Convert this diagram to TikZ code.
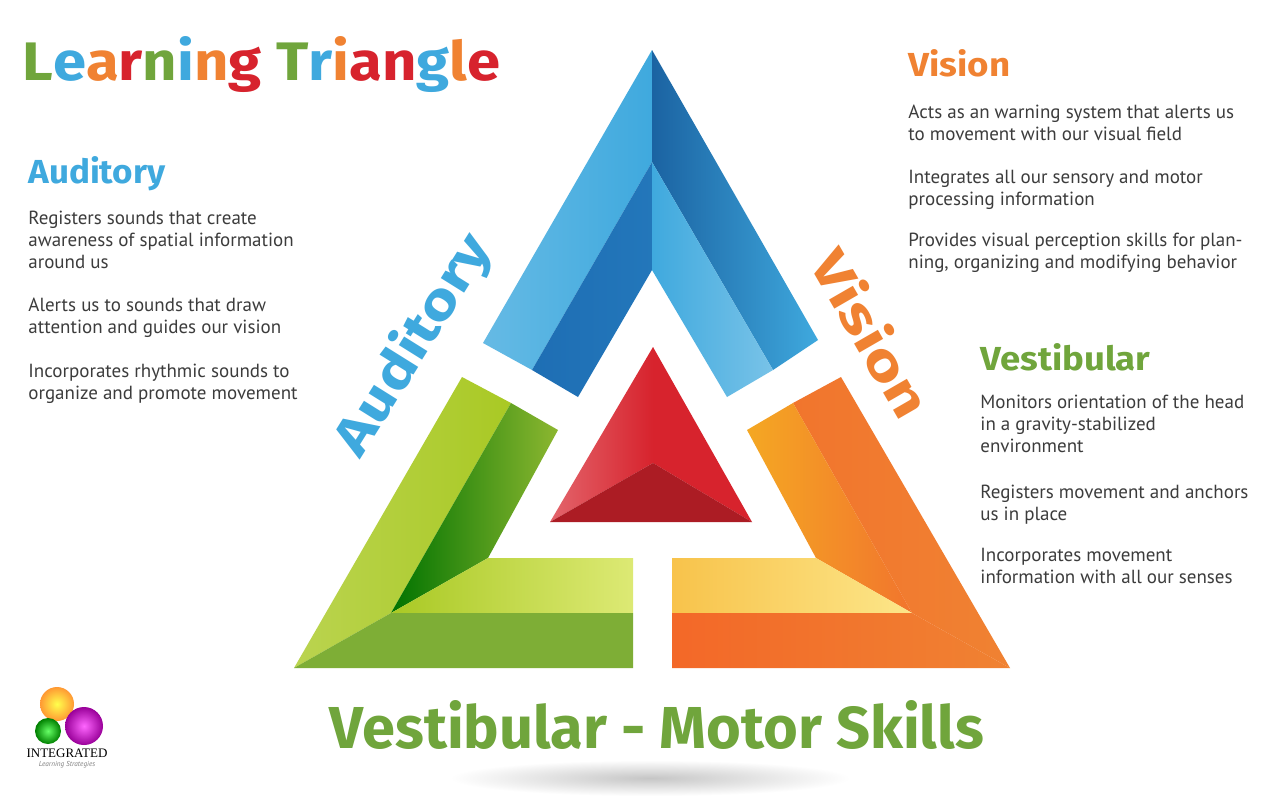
\documentclass[tikz,border=0pt]{standalone}
\usepackage{fontspec}
\setmainfont{PT Sans}
\newfontfamily\hfont{Fira Sans}
\newfontfamily\lfont{Liberation Serif}
\definecolor{cB}{RGB}{63,169,222}
\definecolor{cBd}{RGB}{30,110,180}
\definecolor{cO}{RGB}{240,130,50}
\definecolor{cG}{RGB}{112,165,60}
\definecolor{cR}{RGB}{215,35,45}
\definecolor{txt}{RGB}{60,60,60}
\tikzset{
 body/.style={anchor=north west,align=left,text=txt,font=\fontsize{9.5}{11}\selectfont,inner sep=0pt},
}
\newcommand{\T}[3]{\resizebox{#1}{#2}{\hfont\bfseries #3}}
\begin{document}
\begin{tikzpicture}[x=0.5pt,y=-0.5pt]
\useasboundingbox (0,0) rectangle (1274,800);
\fill[white] (0,0) rectangle (1274,800);
% shadow
\shade[inner color=gray!45,outer color=white] (650,778) ellipse (200 and 18);
% blue
\shade[left color=cB!80!white,right color=cB] (652,50)--(483,343)--(532,370)--(652,162)--cycle;
\shade[left color=cBd,right color=cBd!85!cB] (652,162)--(532,370)--(578,397)--(652,270)--cycle;
\shade[left color=cBd!90!black,right color=cB] (652,50)--(818,340)--(773,370)--(652,162)--cycle;
\shade[left color=cB,right color=cB!70!white] (652,162)--(773,370)--(727,397)--(652,270)--cycle;
% green
\shade[left color=cG!60!yellow!80!white,right color=cG!60!yellow] (294,668)--(462,377)--(511,403)--(391,613)--cycle;
\shade[left color=green!45!black,right color=cG!80!yellow] (511,403)--(558,430)--(488,558)--(391,613)--cycle;
\shade[left color=cG!60!yellow,right color=cG!40!yellow!60!white] (391,613)--(488,558)--(633,558)--(633,613)--cycle;
\fill[cG!90!yellow] (294,668)--(391,613)--(633,613)--(633,668)--cycle;
% orange
\shade[left color=cO!90!red,right color=cO] (1010,668)--(841,377)--(793,403)--(912,613)--cycle;
\shade[left color=cO!70!yellow,right color=cO!90!red] (793,403)--(747,430)--(816,558)--(912,613)--cycle;
\shade[left color=cO!60!yellow!80!white,right color=cO!40!yellow!50!white] (912,613)--(816,558)--(672,558)--(672,613)--cycle;
\shade[left color=cO!80!red,right color=cO] (1010,668)--(912,613)--(672,613)--(672,668)--cycle;
% red
\shade[left color=cR!70!white,right color=cR] (653,347)--(550,522)--(653,463)--cycle;
\fill[cR] (653,347)--(752,522)--(653,463)--cycle;
\fill[cR!80!black] (550,522)--(752,522)--(653,463)--cycle;
% title
\node[anchor=base west,inner sep=0pt] (title) at (22,80) {\T{239pt}{22pt}{\textcolor{cG}{L}\textcolor{cB}{e}\textcolor{cO}{a}\textcolor{cR}{r}\textcolor{cG}{n}\textcolor{cB}{i}\textcolor{cO}{n}\textcolor{cR}{g} \textcolor{cG}{T}\textcolor{cB}{r}\textcolor{cO}{i}\textcolor{cR}{a}\textcolor{cR}{n}\textcolor{cB}{g}\textcolor{cO}{l}\textcolor{cR}{e}}};
% Auditory
\node[anchor=base west,inner sep=0pt,text=cB] (ah) at (28,183) {\T{68.5pt}{13.5pt}{Auditory}};
\node[body] (a1) at (28,211) {Registers sounds that create\\awareness of spatial information\\around us};
\node[body] (a2) at (28,298) {Alerts us to sounds that draw\\attention and guides our vision};
\node[body] (a3) at (28,364) {Incorporates rhythmic sounds to\\organize and promote movement};
% Vision
\node[anchor=base west,inner sep=0pt,text=cO] (vh) at (908,76) {\T{51pt}{13.5pt}{Vision}};
\node[body] (v1) at (908,105) {Acts as an warning system that alerts us\\to movement with our visual field};
\node[body] (v2) at (908,170) {Integrates all our sensory and motor\\processing information};
\node[body] (v3) at (908,233) {Provides visual perception skills for plan-\\ning, organizing and modifying behavior};
% Vestibular
\node[anchor=base west,inner sep=0pt,text=cG] (sh) at (980,370) {\T{85pt}{13.5pt}{Vestibular}};
\node[body] (s1) at (980,395) {Monitors orientation of the head\\in a gravity-stabilized\\environment};
\node[body] (s2) at (980,485) {Registers movement and anchors\\us in place};
\node[body] (s3) at (980,548) {Incorporates movement\\information with all our senses};
% rotated labels
\node[rotate=58,inner sep=0pt,text=cB] (ra) at (414,345) {\T{125pt}{21pt}{Auditory}};
\node[rotate=-60,inner sep=0pt,text=cO] (rv) at (872,333) {\T{92pt}{21pt}{Vision}};
% bottom
\node[anchor=base,inner sep=0pt,text=cG] (bt) at (657,748) {\T{327pt}{24pt}{Vestibular - Motor Skills}};
% logo
\shade[inner color=yellow!70,outer color=orange!80] (57,704) circle (17);
\shade[inner color=green!60,outer color=green!50!black] (48,731) circle (13);
\shade[inner color=magenta!60,outer color=violet!80!magenta] (84,726) circle (19);
\node[inner sep=0pt,font=\lfont\fontsize{6.5}{7}\selectfont] (lg) at (67,753) {INTEGRATED};
\node[inner sep=0pt,font=\itshape\fontsize{3.6}{4}\selectfont,text=gray] (lg2) at (67,765) {Learning Strategies};
\end{tikzpicture}
\end{document}
